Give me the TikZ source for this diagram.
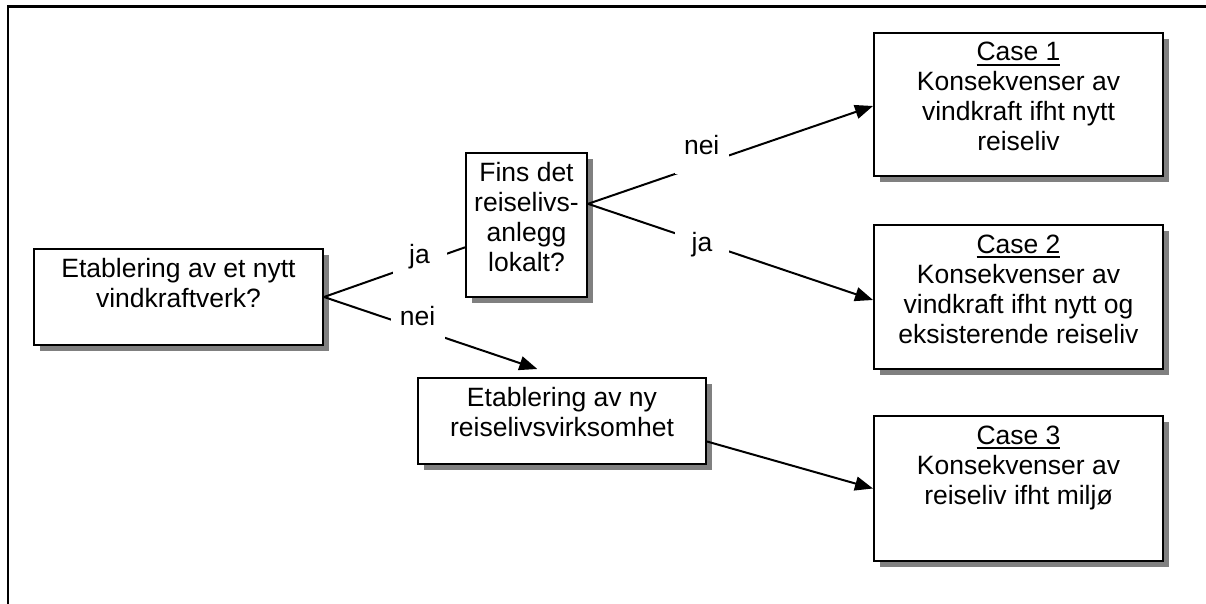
\documentclass[tikz,border=0pt]{standalone}
\usepackage{fontspec}
\setmainfont{Liberation Sans}
\usetikzlibrary{arrows.meta,calc,shadows}
\definecolor{shadowgray}{RGB}{128,128,128}
\newsavebox\ulbox
\newcommand\ulc[1]{\sbox\ulbox{#1}\rlap{\rule[-4.7pt]{\wd\ulbox}{2pt}}\usebox\ulbox}
\newcommand\boxtxt[3]{\parbox[c][#2pt][t]{#1pt}{\centering\rule{0pt}{28pt}#3}}
\begin{document}
\begin{tikzpicture}[x=1pt,y=-1pt,
  every node/.style={font=\fontsize{26.5}{30}\selectfont},
  fbox/.style={draw, line width=2pt, fill=white, inner sep=0pt, anchor=north west,
    general shadow={fill=shadowgray, shadow xshift=6pt, shadow yshift=-6pt}},
  conn/.style={line width=2pt},
  arr/.style={conn, -{Triangle[length=18pt,width=14pt]}},
  lab/.style={fill=white, inner sep=0pt, minimum width=54pt, text height=22pt, text depth=19pt, anchor=base},
  frame/.style={line width=2.5pt}]
\useasboundingbox (0,0) rectangle (1206,604);
\draw[frame] (8.2,604) -- (8.2,6.3) -- (1206,6.3);
% boxes
\node[fbox] (A) at (33,248) {\boxtxt{289}{96}{Etablering av et nytt\\vindkraftverk?}};
\node[fbox] (B) at (465,152) {\boxtxt{121}{144}{Fins det\\reiselivs-\\anlegg\\lokalt?}};
\node[fbox] (C) at (417,377) {\boxtxt{288}{86}{Etablering av ny\\reiselivsvirksomhet}};
\node[fbox] (C1) at (873,32) {\boxtxt{289}{143}{\ulc{Case 1}\\Konsekvenser av\\vindkraft ifht nytt\\reiseliv}};
\node[fbox] (C2) at (873,224) {\boxtxt{289}{144}{\ulc{Case 2}\\Konsekvenser av\\vindkraft ifht nytt og\\eksisterende reiseliv}};
\node[fbox] (C3) at (873,415) {\boxtxt{289}{145}{\ulc{Case 3}\\Konsekvenser av\\reiseliv ifht milj\o}};
% connectors
\draw[conn] (A.east) -- ($(B.north west)!0.653!(B.south west)$);
\draw[arr, shorten >=25pt] (A.east) -- ($(C.north west)+(144,0)$);
\draw[arr] ($(B.north east)!0.355!(B.south east)$) -- ($(C1.west)+(0,1.5)$);
\draw[arr] ($(B.north east)!0.355!(B.south east)$) -- ($(C2.west)+(0,3)$);
\draw[arr] ($(C.north east)!0.733!(C.south east)$) -- (C3.west);
% labels
\node[lab] (ja1) at (419.5,263.3) {ja};
\node[lab] (nei1) at (417.5,325) {nei};
\node[lab] (nei2) at (701.7,155) {nei};
\node[lab] (ja2) at (702,251.7) {ja};
\end{tikzpicture}
\end{document}
